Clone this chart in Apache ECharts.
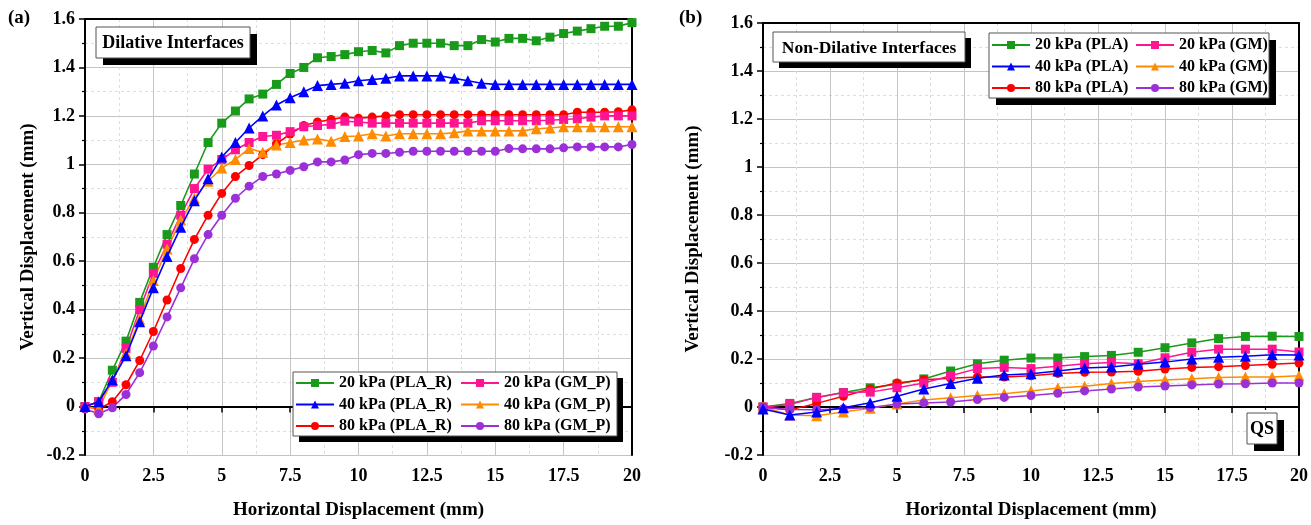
<!DOCTYPE html>
<html><head><meta charset="utf-8">
<script src="https://cdn.jsdelivr.net/npm/echarts@6/dist/echarts.min.js"></script>
<style>html,body{margin:0;padding:0;background:#fff}#c{width:1311px;height:525px}</style>
</head><body><div id="c"></div>
<script>
// ---------- DATA ----------
const xLeft = [0,0.5,1,1.5,2,2.5,3,3.5,4,4.5,5,5.5,6,6.5,7,7.5,8,8.5,9,9.5,10,10.5,11,11.5,12,12.5,13,13.5,14,14.5,15,15.5,16,16.5,17,17.5,18,18.5,19,19.5,20];
const dil20PLA = [0,0.02,0.15,0.27,0.43,0.575,0.71,0.83,0.96,1.09,1.17,1.22,1.27,1.29,1.33,1.375,1.40,1.44,1.445,1.453,1.465,1.47,1.46,1.49,1.50,1.50,1.50,1.49,1.49,1.515,1.505,1.52,1.52,1.51,1.525,1.54,1.55,1.56,1.57,1.57,1.585];
const dil40PLA = [0,0.02,0.11,0.21,0.35,0.49,0.62,0.74,0.85,0.94,1.03,1.09,1.15,1.20,1.245,1.275,1.30,1.325,1.33,1.335,1.345,1.35,1.355,1.365,1.365,1.365,1.365,1.355,1.345,1.335,1.33,1.33,1.33,1.33,1.33,1.33,1.33,1.33,1.33,1.33,1.33];
const dil80PLA = [0,-0.01,0.02,0.09,0.19,0.31,0.44,0.57,0.69,0.79,0.88,0.95,0.995,1.04,1.085,1.125,1.16,1.175,1.185,1.195,1.19,1.195,1.20,1.205,1.205,1.205,1.205,1.205,1.205,1.205,1.205,1.205,1.205,1.205,1.205,1.205,1.215,1.215,1.215,1.217,1.225];
const dil20GM = [0,0.02,0.10,0.24,0.40,0.55,0.67,0.79,0.90,0.98,1.02,1.06,1.09,1.115,1.12,1.135,1.155,1.16,1.165,1.178,1.175,1.17,1.17,1.17,1.17,1.17,1.17,1.17,1.17,1.18,1.18,1.18,1.18,1.18,1.182,1.185,1.188,1.195,1.2,1.2,1.2];
const dil40GM = [0,-0.01,0.11,0.22,0.36,0.52,0.65,0.77,0.86,0.93,0.985,1.02,1.065,1.05,1.08,1.09,1.10,1.105,1.095,1.115,1.117,1.126,1.117,1.126,1.126,1.126,1.126,1.13,1.138,1.138,1.138,1.138,1.138,1.147,1.15,1.155,1.155,1.155,1.155,1.155,1.155];
const dil80GM = [-0.01,-0.03,-0.005,0.05,0.14,0.25,0.37,0.49,0.61,0.71,0.79,0.86,0.91,0.95,0.96,0.975,0.99,1.01,1.01,1.018,1.04,1.045,1.045,1.05,1.054,1.054,1.054,1.054,1.054,1.054,1.054,1.065,1.064,1.064,1.064,1.068,1.072,1.072,1.072,1.072,1.082];

const xRight = [0,1,2,3,4,5,6,7,8,9,10,11,12,13,14,15,16,17,18,19,20];
const nd20PLA = [0,0.015,0.04,0.06,0.08,0.095,0.117,0.15,0.18,0.195,0.204,0.204,0.21,0.215,0.228,0.247,0.267,0.285,0.294,0.295,0.294];
const nd40PLA = [-0.008,-0.033,-0.021,-0.003,0.018,0.045,0.075,0.098,0.12,0.133,0.139,0.15,0.162,0.167,0.178,0.187,0.2,0.207,0.211,0.218,0.217];
const nd80PLA = [0,-0.012,0.015,0.045,0.075,0.10,0.114,0.12,0.125,0.125,0.13,0.14,0.145,0.146,0.149,0.158,0.165,0.168,0.173,0.178,0.183];
const nd20GM = [0,0.01,0.04,0.06,0.062,0.08,0.10,0.13,0.16,0.165,0.16,0.17,0.18,0.185,0.18,0.205,0.228,0.241,0.241,0.241,0.229];
const nd40GM = [0,-0.033,-0.036,-0.021,-0.005,0.013,0.029,0.039,0.048,0.055,0.067,0.079,0.086,0.098,0.106,0.113,0.118,0.123,0.125,0.125,0.13];
const nd80GM = [-0.002,-0.01,-0.011,-0.007,-0.002,0.012,0.017,0.021,0.031,0.04,0.048,0.057,0.067,0.075,0.083,0.087,0.092,0.096,0.097,0.1,0.1];

const leftNames = ['20 kPa (PLA_R)','40 kPa (PLA_R)','80 kPa (PLA_R)','20 kPa (GM_P)','40 kPa (GM_P)','80 kPa (GM_P)'];
const rightNames = ['20 kPa (PLA)','40 kPa (PLA)','80 kPa (PLA)','20 kPa (GM)','40 kPa (GM)','80 kPa (GM)'];
const xTickStep = 2.5, yMin = -0.2, yMax = 1.6, yStep = 0.2;

// ---------- STYLE ----------
const FONT = '"Liberation Serif","Times New Roman",serif';
const colors = ['#1a9a1a','#0000ff','#ff0000','#ff1493','#ff8c00','#9b30d9'];
const symbols = ['rect','triangle','circle','rect','triangle','circle'];

const chart = echarts.init(document.getElementById('c'), null, {renderer:'canvas'});

function mkSeries(names, xs, arrs, idx, symSize, lw) {
  return arrs.map((arr, i) => ({
    name: names[i], type: 'line', xAxisIndex: idx, yAxisIndex: idx,
    data: xs.map((x, j) => [x, arr[j]]),
    symbol: symbols[i], symbolSize: symbols[i]==='triangle' ? symSize+2 : symSize,
    showAllSymbol: true,
    lineStyle: {color: colors[i], width: lw},
    itemStyle: {color: colors[i]},
    z: 3 + (i===1?1:0), animation: false
  }));
}

function mainX(idx) {
  return {
    gridIndex: idx, type: 'value', min: 0, max: 20, interval: xTickStep,
    name: 'Horizontal Displacement (mm)', nameLocation: 'middle', nameGap: 46,
    nameTextStyle: {fontFamily: FONT, fontWeight: 'bold', fontSize: 19, color: '#000'},
    axisLine: {show: true, lineStyle: {color: '#000', width: 2}},
    axisTick: {show: true, length: 6, lineStyle: {color: '#000', width: 1.5}},
    minorTick: {show: true, splitNumber: 2, length: 3, lineStyle: {color: '#000', width: 1.2}},
    splitLine: {show: true, lineStyle: {color: '#c4c4c4', width: 1}},
    minorSplitLine: {show: true, lineStyle: {color: '#dedede', width: 1, type: [3, 3]}},
    axisLabel: {fontFamily: FONT, fontWeight: 'bold', fontSize: 18, color: '#000', margin: 12}
  };
}
function mainY(idx, gap) {
  return {
    gridIndex: idx, type: 'value', min: yMin, max: yMax, interval: yStep,
    name: 'Vertical Displacement (mm)', nameLocation: 'middle', nameGap: gap,
    nameTextStyle: {fontFamily: FONT, fontWeight: 'bold', fontSize: 19, color: '#000'},
    axisLine: {show: true, lineStyle: {color: '#000', width: 2}},
    axisTick: {show: true, length: 6, lineStyle: {color: '#000', width: 1.5}},
    minorTick: {show: true, splitNumber: 2, length: 3, lineStyle: {color: '#000', width: 1.2}},
    splitLine: {show: true, lineStyle: {color: '#c4c4c4', width: 1}},
    minorSplitLine: {show: true, lineStyle: {color: '#dedede', width: 1, type: [3, 3]}},
    axisLabel: {fontFamily: FONT, fontWeight: 'bold', fontSize: 18, color: '#000', margin: 10,
      formatter: v => String(Math.round(v * 10) / 10)}
  };
}
function frameX(idx) {
  return {gridIndex: idx, type: 'value', min: 0, max: 20, position: 'top',
    axisLine: {show: true, onZero: false, lineStyle: {color: '#000', width: 2}},
    axisTick: {show: false}, axisLabel: {show: false}, splitLine: {show: false}};
}
function frameY(idx) {
  return {gridIndex: idx, type: 'value', min: yMin, max: yMax, position: 'right',
    axisLine: {show: true, onZero: false, lineStyle: {color: '#000', width: 2}},
    axisTick: {show: false}, axisLabel: {show: false}, splitLine: {show: false}};
}

const legText = {fontFamily: FONT, fontWeight: 'bold', fontSize: 16, color: '#000', lineHeight: 20};
function legend(data, left, top) {
  return {data, left, top, orient: 'vertical', padding: 0, itemGap: 1.5,
    itemWidth: 38, itemHeight: 10, textStyle: legText, z: 20, selectedMode: false};
}

function boxGroup(x, y, w, h, off, text, fs) {
  const els = [
    {type: 'rect', z: 15, shape: {x: x + off, y: y + off, width: w, height: h}, style: {fill: '#000'}},
    {type: 'rect', z: 16, shape: {x: x, y: y, width: w, height: h}, style: {fill: '#fff', stroke: '#555', lineWidth: 1}}
  ];
  if (text) els.push({type: 'text', z: 17, style: {text: text, x: x + w / 2, y: y + h / 2 + 1, align: 'center', verticalAlign: 'middle',
    fontFamily: FONT, fontWeight: 'bold', fontSize: fs, fill: '#000'}});
  return els;
}

const option = {
  animation: false,
  backgroundColor: '#fff',
  grid: [
    {left: 85, top: 19, width: 547, height: 441, containLabel: false},
    {left: 763, top: 23, width: 537, height: 433, containLabel: false}
  ],
  xAxis: [mainX(0), mainX(1), frameX(0), frameX(1)],
  yAxis: [mainY(0, 47), mainY(1, 60), frameY(0), frameY(1)],
  legend: [
    legend(leftNames.slice(0, 3), 295, 373),
    legend(leftNames.slice(3), 460, 373),
    legend(rightNames.slice(0, 3), 991, 35),
    legend(rightNames.slice(3), 1135, 35)
  ],
  graphic: [
    ...boxGroup(96, 27, 154, 31, 7, 'Dilative Interfaces', 18),
    ...boxGroup(293, 372, 324, 64, 6, null),
    ...boxGroup(773, 32, 192, 30, 6, 'Non-Dilative Interfaces', 17.5),
    ...boxGroup(989, 33, 280, 65, 7, null),
    ...boxGroup(1247, 413, 30, 31, 7, 'QS', 18),
    {type: 'text', z: 17, style: {text: '(a)', x: 8, y: 18, verticalAlign: 'middle', fontFamily: FONT, fontWeight: 'bold', fontSize: 19, fill: '#000'}},
    {type: 'text', z: 17, style: {text: '(b)', x: 679, y: 18, verticalAlign: 'middle', fontFamily: FONT, fontWeight: 'bold', fontSize: 19, fill: '#000'}}
  ],
  series: [
    ...mkSeries(leftNames, xLeft, [dil20PLA, dil40PLA, dil80PLA, dil20GM, dil40GM, dil80GM], 0, 9, 1.6),
    ...mkSeries(rightNames, xRight, [nd20PLA, nd40PLA, nd80PLA, nd20GM, nd40GM, nd80GM], 1, 9, 1.5)
  ]
};
chart.setOption(option);
</script>
</body></html>
